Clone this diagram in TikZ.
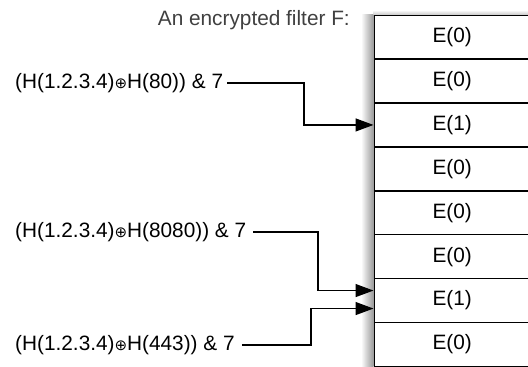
\documentclass[tikz,border=0pt]{standalone}
\usepackage{fontspec}
\setmainfont{Liberation Sans}
\newfontfamily\symfont{DejaVu Sans}
\usetikzlibrary{arrows.meta,calc}
\newcommand{\myoplus}{{\symfont\fontsize{15}{15}\selectfont ⊕}}
\begin{document}
\begin{tikzpicture}[x=1pt,y=-1pt,
  every node/.style={font=\fontsize{20.8}{24}\selectfont},
  cell/.style={draw, line width=1.4pt, rectangle, minimum width=156pt, minimum height=43.9pt, anchor=north west, inner sep=0pt},
  lab/.style={anchor=west, inner sep=2pt},
  conn/.style={line width=1.3pt, -{Triangle[length=18pt,width=13pt]}}]
\useasboundingbox (0,0) rectangle (528,367);
\clip (0,0) rectangle (528,367);
% shadow
\shade[left color=white, right color=black!40] (361,14.5) rectangle (373.5,366);
\shade[top color=white, bottom color=black!20] (373.5,10) rectangle (528,14.5);
\foreach \i/\t in {1/E(0),2/E(0),3/E(1),4/E(0),5/E(0),6/E(0),7/E(1),8/E(0)}{
  \node[cell, fill=white] (r\i) at (373.5,{14.5+43.9*(\i-1)}) {\t};
}
\node[anchor=east, text=black!75, inner sep=0pt] (title) at (350,20) {An encrypted filter F:};
\node[lab] (l1) at (13,83) {(H(1.2.3.4)\myoplus H(80)) \& 7};
\node[lab] (l2) at (13,232) {(H(1.2.3.4)\myoplus H(8080)) \& 7};
\node[lab] (l3) at (13,345) {(H(1.2.3.4)\myoplus H(443)) \& 7};
\coordinate (c1) at (302,0);
\coordinate (c2) at (313,0);
\coordinate (c3) at (306,0);
\coordinate (t2) at ([yshift=10pt]r7.west);
\coordinate (t3) at ([yshift=-8pt]r7.west);
\draw[conn] ([xshift=2pt]l1.east) -- ([xshift=2pt]l1.east -| c1) |- (r3.west);
\draw[conn] ([xshift=5pt]l2.east) -- ([xshift=5pt]l2.east -| c2) |- (t2);
\draw[conn] ([xshift=5pt]l3.east) -- ([xshift=5pt]l3.east -| c3) |- (t3);
\end{tikzpicture}
\end{document}
